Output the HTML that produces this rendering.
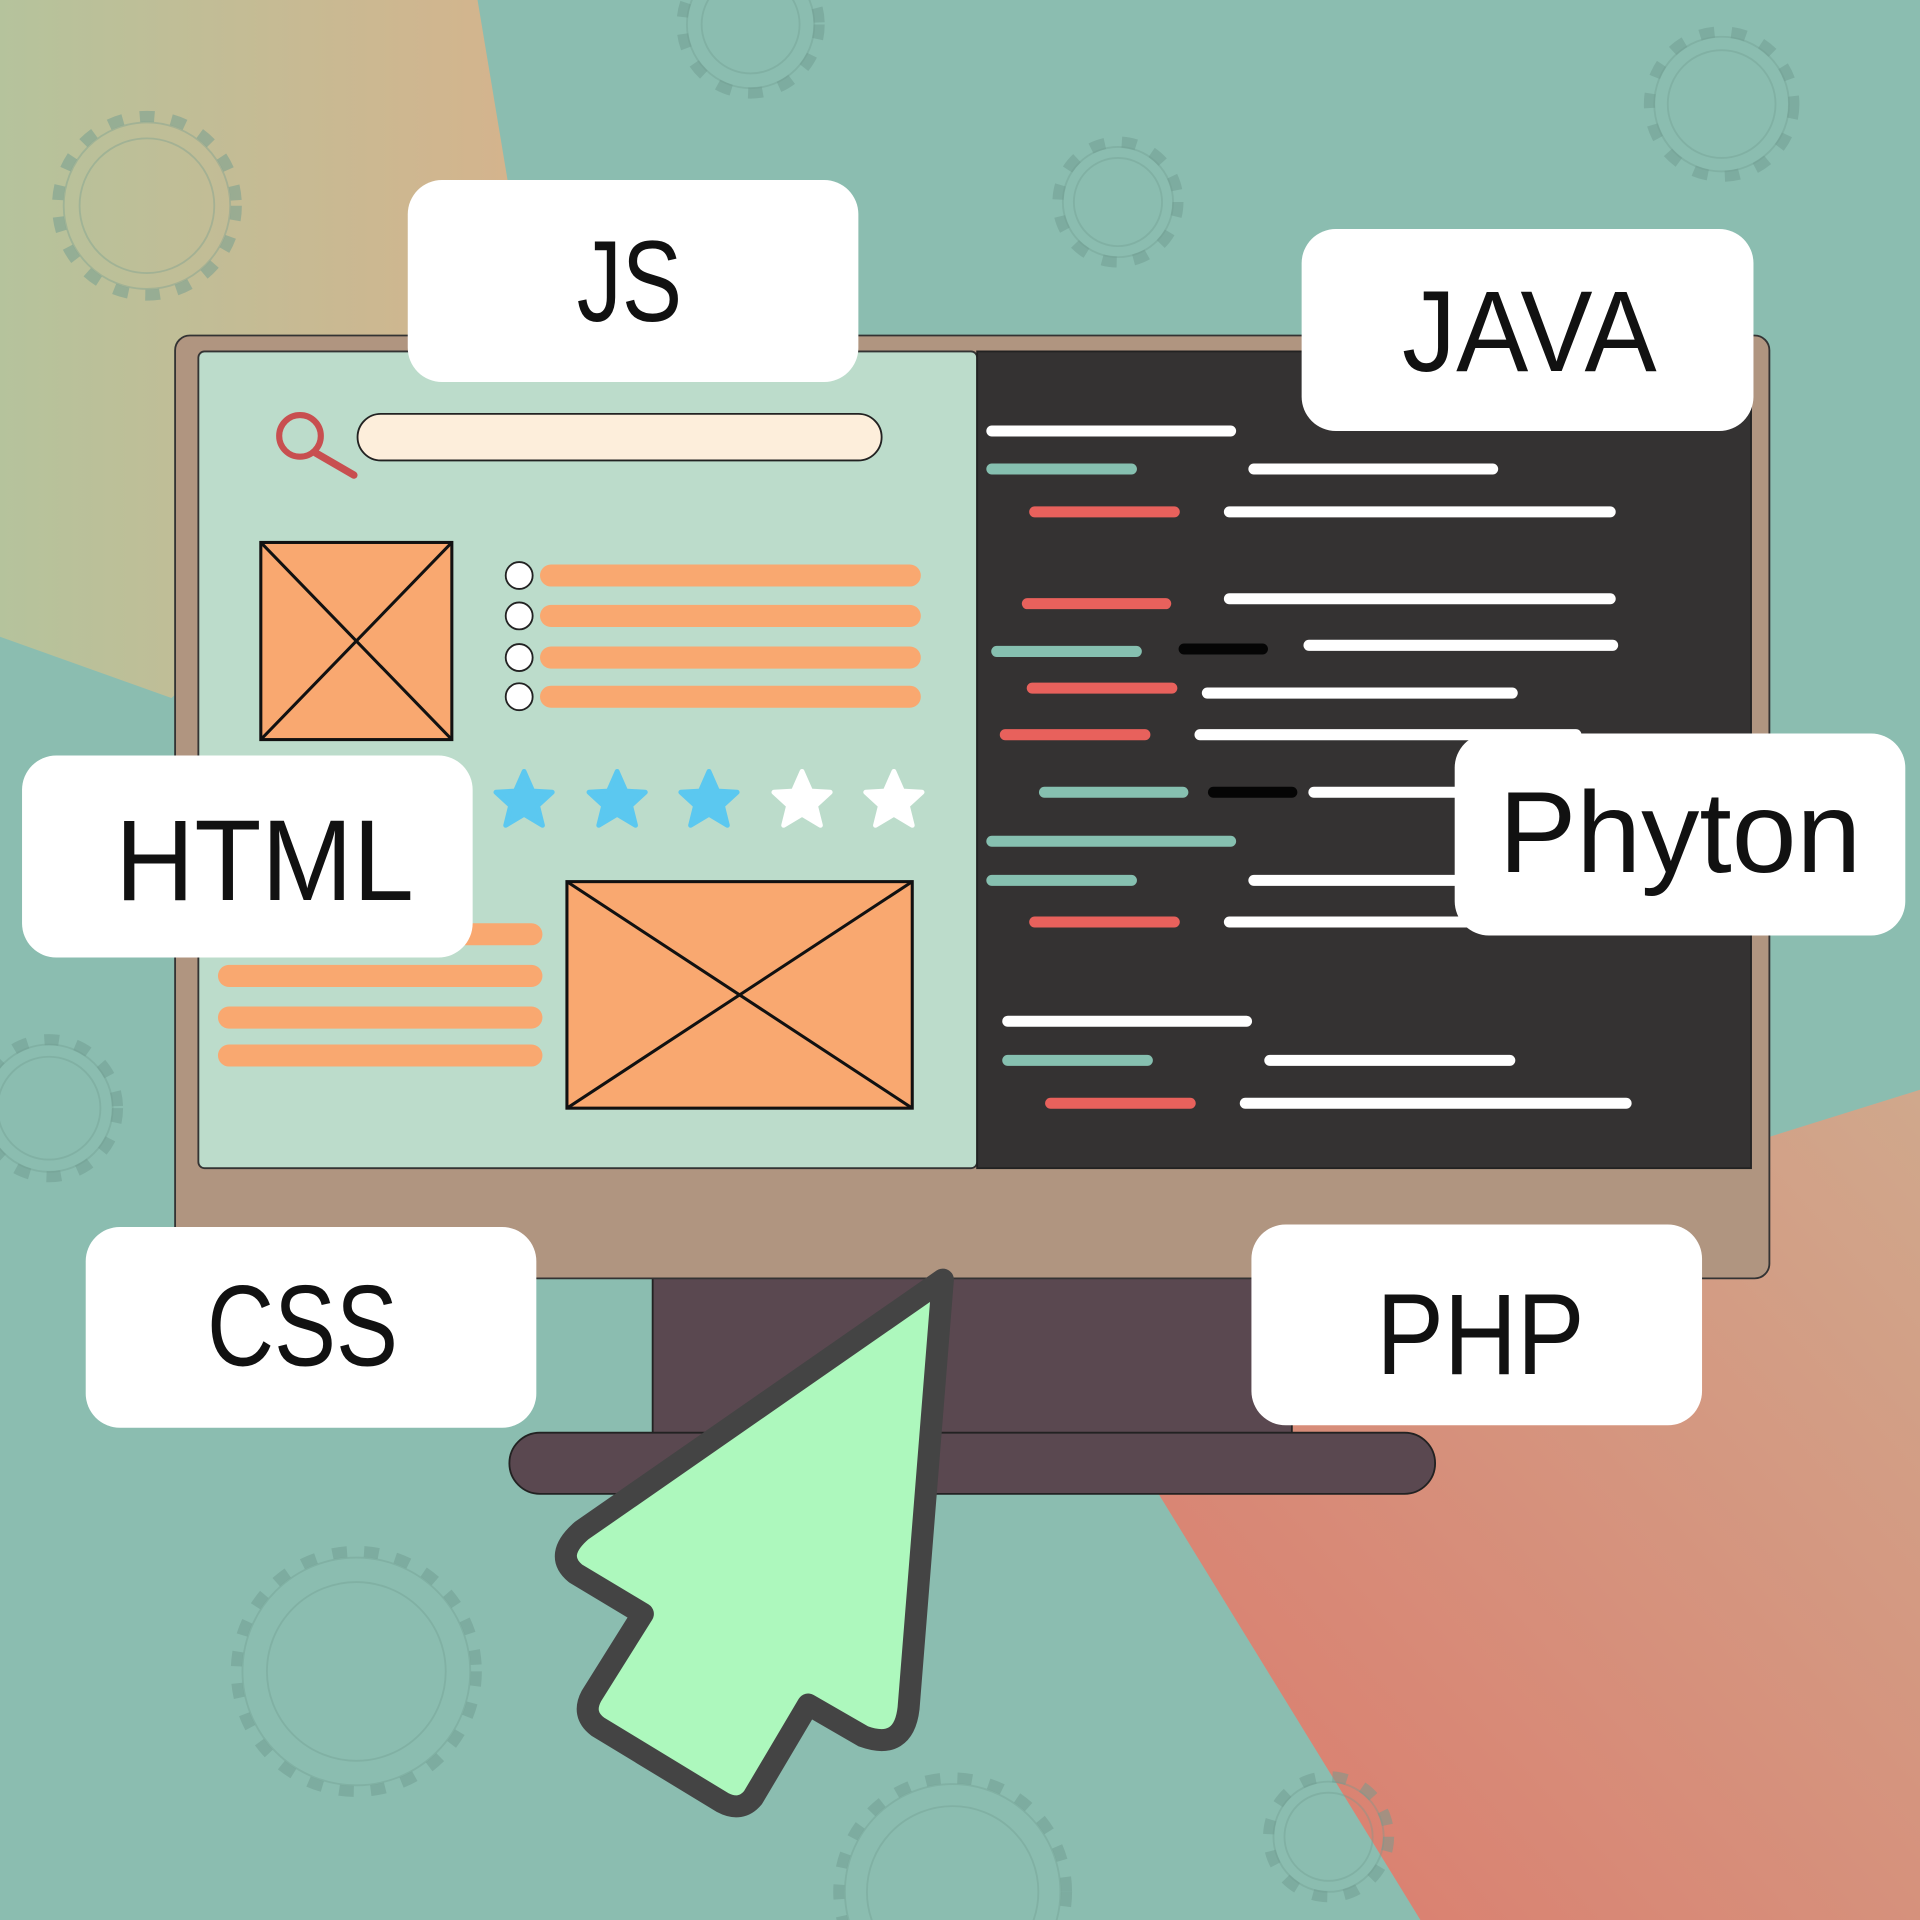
<!DOCTYPE html>
<html><head><meta charset="utf-8"><style>
html,body{margin:0;padding:0;width:1920px;height:1920px;overflow:hidden;background:#8bbdb0}
svg{display:block}
text{font-family:"Liberation Sans",sans-serif;font-size:94px;fill:#111;text-anchor:middle}
</style></head><body>
<svg width="1920" height="1920" viewBox="0 0 1568 1568" xmlns="http://www.w3.org/2000/svg">
<defs>
<linearGradient id="tan" x1="0" y1="0" x2="1" y2="0"><stop offset="0" stop-color="#b5c39c"/><stop offset="1" stop-color="#d6b38c"/></linearGradient>
<linearGradient id="sal" x1="0" y1="1" x2="1" y2="0"><stop offset="0" stop-color="#dc7a6c"/><stop offset="1" stop-color="#d0a88c"/></linearGradient>
</defs>
<rect width="1568" height="1568" fill="#8bbdb0"/>
<polygon points="0,0 390,0 440,300 140,570 0,520" fill="url(#tan)"/>
<polygon points="1440,930 1568,890 1568,1568 1160,1568 940,1210" fill="url(#sal)"/>
<g fill="none" stroke="#6f9c90" stroke-opacity="0.35">
<g stroke-width="1.5">
<circle cx="120" cy="168" r="55"/><circle cx="613" cy="20" r="40"/><circle cx="913" cy="165" r="36"/><circle cx="1406" cy="85" r="44"/><circle cx="40" cy="905" r="42"/><circle cx="291" cy="1365" r="73"/><circle cx="778" cy="1545" r="70"/><circle cx="1085" cy="1500" r="36"/>
</g>
<g stroke-width="1.5">
<circle cx="120" cy="168" r="68"/><circle cx="613" cy="20" r="52"/><circle cx="913" cy="165" r="45"/><circle cx="1406" cy="85" r="55"/><circle cx="40" cy="905" r="52"/><circle cx="291" cy="1365" r="93"/><circle cx="778" cy="1545" r="88"/><circle cx="1085" cy="1500" r="45"/>
</g>
<g stroke-width="9" stroke-dasharray="12 14" stroke-opacity="0.5">
<circle cx="120" cy="168" r="73"/><circle cx="613" cy="20" r="56"/><circle cx="913" cy="165" r="49"/><circle cx="1406" cy="85" r="59"/><circle cx="40" cy="905" r="56"/><circle cx="291" cy="1365" r="98"/><circle cx="778" cy="1545" r="93"/><circle cx="1085" cy="1500" r="49"/>
</g>
</g>
<!-- monitor -->
<rect x="533" y="1040" width="522" height="134" fill="#5a4850" stroke="#222" stroke-width="1.5"/>
<rect x="416" y="1170" width="756" height="50" rx="25" fill="#5a4850" stroke="#222" stroke-width="1.5"/>
<rect x="143" y="274" width="1302" height="770" rx="12" fill="#b09580" stroke="#333" stroke-width="1.5"/>
<rect x="162" y="287" width="636" height="667" rx="5" fill="#bcdccb" stroke="#333" stroke-width="1.5"/>
<rect x="798" y="287" width="632" height="667" fill="#343232" stroke="#222" stroke-width="1.5"/>
<rect x="292" y="338" width="428" height="38" rx="19" fill="#fdeedb" stroke="#222" stroke-width="1.5"/>
<circle cx="245" cy="356" r="17" fill="none" stroke="#c84f50" stroke-width="5"/>
<line x1="258" y1="370" x2="289" y2="388" stroke="#c84f50" stroke-width="6" stroke-linecap="round"/>
<g fill="#f9a870" stroke="#111" stroke-width="2.5">
<rect x="213" y="443" width="156" height="161"/><line x1="213" y1="443" x2="369" y2="604"/><line x1="369" y1="443" x2="213" y2="604"/>
<rect x="463" y="720" width="282" height="185"/><line x1="463" y1="720" x2="745" y2="905"/><line x1="745" y1="720" x2="463" y2="905"/>
</g>
<g stroke="#f9a870" stroke-width="18" stroke-linecap="round">
<line x1="450" y1="470" x2="743" y2="470"/><line x1="450" y1="503" x2="743" y2="503"/><line x1="450" y1="537" x2="743" y2="537"/><line x1="450" y1="569" x2="743" y2="569"/>
<line x1="187" y1="763" x2="434" y2="763"/><line x1="187" y1="797" x2="434" y2="797"/><line x1="187" y1="831" x2="434" y2="831"/><line x1="187" y1="862" x2="434" y2="862"/>
</g>
<g fill="#fff" stroke="#222" stroke-width="1.5">
<circle cx="424" cy="470" r="11"/><circle cx="424" cy="503" r="11"/><circle cx="424" cy="537" r="11"/><circle cx="424" cy="569" r="11"/>
</g>
<g stroke-width="4" stroke-linejoin="round">
<polygon points="0,-24 7,-8 23,-7 11,4 15,20 0,11 -15,20 -11,4 -23,-7 -7,-8" transform="translate(428,654)" fill="#5bc8f0" stroke="#5bc8f0"/>
<polygon points="0,-24 7,-8 23,-7 11,4 15,20 0,11 -15,20 -11,4 -23,-7 -7,-8" transform="translate(504,654)" fill="#5bc8f0" stroke="#5bc8f0"/>
<polygon points="0,-24 7,-8 23,-7 11,4 15,20 0,11 -15,20 -11,4 -23,-7 -7,-8" transform="translate(579,654)" fill="#5bc8f0" stroke="#5bc8f0"/>
<polygon points="0,-24 7,-8 23,-7 11,4 15,20 0,11 -15,20 -11,4 -23,-7 -7,-8" transform="translate(655,654)" fill="#fff" stroke="#fff"/>
<polygon points="0,-24 7,-8 23,-7 11,4 15,20 0,11 -15,20 -11,4 -23,-7 -7,-8" transform="translate(730,654)" fill="#fff" stroke="#fff"/>
</g>
<g stroke-width="9" stroke-linecap="round">
<g stroke="#fff">
<line x1="810" y1="352" x2="1005" y2="352"/><line x1="1024" y1="383" x2="1219" y2="383"/><line x1="1004" y1="418" x2="1315" y2="418"/><line x1="1004" y1="489" x2="1315" y2="489"/><line x1="1069" y1="527" x2="1317" y2="527"/><line x1="986" y1="566" x2="1235" y2="566"/><line x1="980" y1="600" x2="1287" y2="600"/><line x1="1073" y1="647" x2="1200" y2="647"/><line x1="1024" y1="719" x2="1200" y2="719"/><line x1="1004" y1="753" x2="1200" y2="753"/><line x1="823" y1="834" x2="1018" y2="834"/><line x1="1037" y1="866" x2="1233" y2="866"/><line x1="1017" y1="901" x2="1328" y2="901"/>
</g>
<g stroke="#86c0b0">
<line x1="810" y1="383" x2="924" y2="383"/><line x1="814" y1="532" x2="928" y2="532"/><line x1="853" y1="647" x2="966" y2="647"/><line x1="810" y1="687" x2="1005" y2="687"/><line x1="810" y1="719" x2="924" y2="719"/><line x1="823" y1="866" x2="937" y2="866"/>
</g>
<g stroke="#e8615c">
<line x1="845" y1="418" x2="959" y2="418"/><line x1="839" y1="493" x2="952" y2="493"/><line x1="843" y1="562" x2="957" y2="562"/><line x1="821" y1="600" x2="935" y2="600"/><line x1="845" y1="753" x2="959" y2="753"/><line x1="858" y1="901" x2="972" y2="901"/>
</g>
<g stroke="#050505"><line x1="967" y1="530" x2="1031" y2="530"/><line x1="991" y1="647" x2="1055" y2="647"/></g>
</g>
<path d="M770,1045 L742,1395 Q738,1430 705,1418 L660,1392 L615,1468 Q605,1480 590,1472 L488,1410 Q475,1400 483,1385 L525,1318 L470,1285 Q452,1270 475,1250 Z" fill="#adf8bd" stroke="#444" stroke-width="18" stroke-linejoin="round"/>
<g fill="#fff">
<rect x="333" y="147" width="368" height="165" rx="28"/>
<rect x="1063" y="187" width="369" height="165" rx="28"/>
<rect x="18" y="617" width="368" height="165" rx="28"/>
<rect x="1188" y="599" width="368" height="165" rx="28"/>
<rect x="70" y="1002" width="368" height="164" rx="28"/>
<rect x="1022" y="1000" width="368" height="164" rx="28"/>
</g>
<text x="514" y="262" textLength="86" lengthAdjust="spacingAndGlyphs">JS</text>
<text x="1249" y="303" textLength="208" lengthAdjust="spacingAndGlyphs">JAVA</text>
<text x="216" y="735" textLength="244" lengthAdjust="spacingAndGlyphs">HTML</text>
<text x="1372" y="712" textLength="296" lengthAdjust="spacingAndGlyphs">Phyton</text>
<text x="247" y="1115" textLength="156" lengthAdjust="spacingAndGlyphs">CSS</text>
<text x="1209" y="1122" textLength="170" lengthAdjust="spacingAndGlyphs">PHP</text>
</svg>
</body></html>
